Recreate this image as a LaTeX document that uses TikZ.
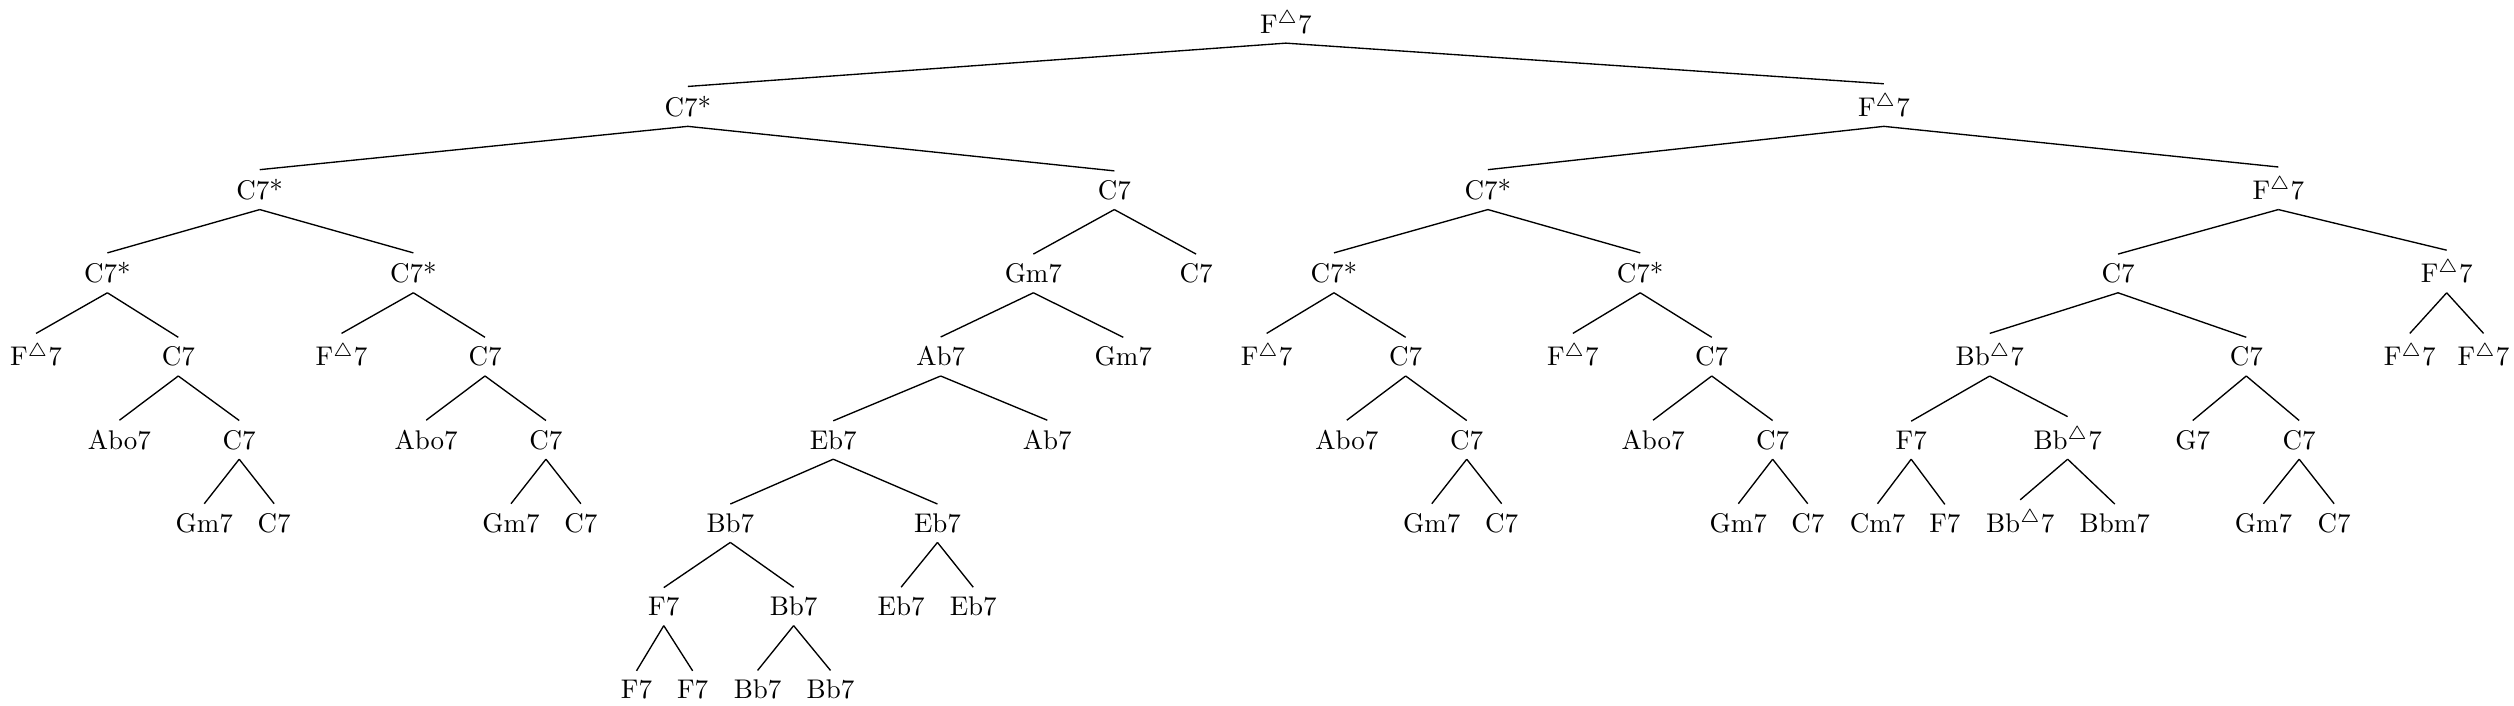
\documentclass[tikz,border=0pt]{standalone}
\newcommand\mtri{$^{\triangle}$}
\begin{document}
\begin{tikzpicture}[x=0.5938pt,y=-0.5938pt,
  lbl/.style={anchor=base, inner sep=3.33pt},
  edge/.style={line width=0.5pt}]
\useasboundingbox (0,0) rectangle (1568,440);
% level 0
\node[lbl] (r) at (802,20.6) {F\mtri7};
% level 1
\node[lbl] (a) at (429,72.5) {C7*};
\node[lbl] (b) at (1175,72.5) {F\mtri7};
% level 2
\node[lbl] (aa) at (162,124.4) {C7*};
\node[lbl] (ab) at (695,124.4) {C7};
\node[lbl] (ba) at (928,124.4) {C7*};
\node[lbl] (bb) at (1421,124.4) {F\mtri7};
% level 3
\node[lbl] (aaa) at (67,176.3) {C7*};
\node[lbl] (aab) at (257.8,176.3) {C7*};
\node[lbl] (aba) at (644.5,176.3) {Gm7};
\node[lbl] (abb) at (746,176.3) {C7};
\node[lbl] (baa) at (832,176.3) {C7*};
\node[lbl] (bab) at (1023,176.3) {C7*};
\node[lbl] (bba) at (1321,176.3) {C7};
\node[lbl] (bbb) at (1526,176.3) {F\mtri7};
% level 4
\node[lbl] (aaaa) at (22.5,228.2) {F\mtri7};
\node[lbl] (aaab) at (111.2,228.2) {C7};
\node[lbl] (aaba) at (213,228.2) {F\mtri7};
\node[lbl] (aabb) at (302.5,228.2) {C7};
\node[lbl] (abaa) at (586.7,228.2) {Ab7};
\node[lbl] (abab) at (700.6,228.2) {Gm7};
\node[lbl] (baaa) at (790,228.2) {F\mtri7};
\node[lbl] (baab) at (876.7,228.2) {C7};
\node[lbl] (baba) at (981,228.2) {F\mtri7};
\node[lbl] (babb) at (1067.6,228.2) {C7};
\node[lbl] (bbaa) at (1241,228.2) {Bb\mtri7};
\node[lbl] (bbab) at (1401,228.2) {C7};
\node[lbl] (bbba) at (1503,228.2) {F\mtri7};
\node[lbl] (bbbb) at (1549,228.2) {F\mtri7};
% level 5
\node[lbl] (aaaba) at (74.5,280.1) {Abo7};
\node[lbl] (aaabb) at (149.2,280.1) {C7};
\node[lbl] (aabba) at (265.8,280.1) {Abo7};
\node[lbl] (aabbb) at (340.5,280.1) {C7};
\node[lbl] (abaaa) at (519.7,280.1) {Eb7};
\node[lbl] (abaab) at (653.2,280.1) {Ab7};
\node[lbl] (baaba) at (840,280.1) {Abo7};
\node[lbl] (baabb) at (914.8,280.1) {C7};
\node[lbl] (babba) at (1031,280.1) {Abo7};
\node[lbl] (babbb) at (1105.6,280.1) {C7};
\node[lbl] (bbaaa) at (1192,280.1) {F7};
\node[lbl] (bbaab) at (1289.6,280.1) {Bb\mtri7};
\node[lbl] (bbaba) at (1367.6,280.1) {G7};
\node[lbl] (bbabb) at (1434,280.1) {C7};
% level 6
\node[lbl] (aaabba) at (127.4,332) {Gm7};
\node[lbl] (aaabbb) at (171,332) {C7};
\node[lbl] (aabbba) at (318.7,332) {Gm7};
\node[lbl] (aabbbb) at (362.3,332) {C7};
\node[lbl] (abaaaa) at (455.5,332) {Bb7};
\node[lbl] (abaaab) at (584.7,332) {Eb7};
\node[lbl] (baabba) at (893,332) {Gm7};
\node[lbl] (baabbb) at (936.6,332) {C7};
\node[lbl] (babbba) at (1084.2,332) {Gm7};
\node[lbl] (babbbb) at (1127.5,332) {C7};
\node[lbl] (bbaaaa) at (1171,332) {Cm7};
\node[lbl] (bbaaab) at (1213,332) {F7};
\node[lbl] (bbaaba) at (1260,332) {Bb\mtri7};
\node[lbl] (bbaabb) at (1319,332) {Bbm7};
\node[lbl] (bbabba) at (1411.7,332) {Gm7};
\node[lbl] (bbabbb) at (1455.8,332) {C7};
% level 7
\node[lbl] (abaaaaa) at (414,383.9) {F7};
\node[lbl] (abaaaab) at (495,383.9) {Bb7};
\node[lbl] (abaaaba) at (562,383.9) {Eb7};
\node[lbl] (abaaabb) at (607,383.9) {Eb7};
% level 8
\node[lbl] (abaaaaaa) at (397,435.8) {F7};
\node[lbl] (abaaaaab) at (432,435.8) {F7};
\node[lbl] (abaaaaba) at (472.5,435.8) {Bb7};
\node[lbl] (abaaaabb) at (518,435.8) {Bb7};
% edges
\foreach \p/\c in {r/a,r/b,a/aa,a/ab,b/ba,b/bb,
  aa/aaa,aa/aab,ab/aba,ab/abb,ba/baa,ba/bab,bb/bba,bb/bbb,
  aaa/aaaa,aaa/aaab,aab/aaba,aab/aabb,aba/abaa,aba/abab,baa/baaa,baa/baab,
  bab/baba,bab/babb,bba/bbaa,bba/bbab,bbb/bbba,bbb/bbbb,
  aaab/aaaba,aaab/aaabb,aabb/aabba,aabb/aabbb,abaa/abaaa,abaa/abaab,
  baab/baaba,baab/baabb,babb/babba,babb/babbb,bbaa/bbaaa,bbaa/bbaab,
  bbab/bbaba,bbab/bbabb,
  aaabb/aaabba,aaabb/aaabbb,aabbb/aabbba,aabbb/aabbbb,abaaa/abaaaa,abaaa/abaaab,
  baabb/baabba,baabb/baabbb,babbb/babbba,babbb/babbbb,bbaaa/bbaaaa,bbaaa/bbaaab,
  bbaab/bbaaba,bbaab/bbaabb,bbabb/bbabba,bbabb/bbabbb,
  abaaaa/abaaaaa,abaaaa/abaaaab,abaaab/abaaaba,abaaab/abaaabb,
  abaaaaa/abaaaaaa,abaaaaa/abaaaaab,abaaaab/abaaaaba,abaaaab/abaaaabb}
  \draw[edge] (\p.south) -- (\c.north);
\end{tikzpicture}
\end{document}
